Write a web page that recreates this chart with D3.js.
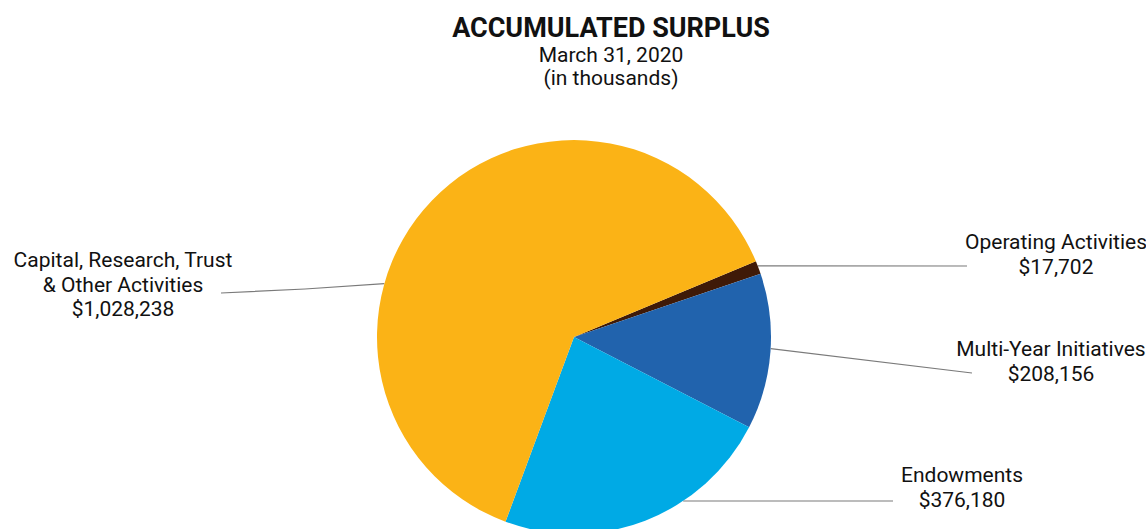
<!DOCTYPE html>
<html>
<head>
<meta charset="utf-8">
<script src="https://cdn.jsdelivr.net/npm/d3@7"></script>
<style>
  html, body { margin: 0; padding: 0; background: #fff; }
  svg text { font-family: Roboto, "Liberation Sans", sans-serif; fill: #111; }
</style>
</head>
<body>
<svg id="chart" width="1146" height="529"></svg>
<script>
// Accumulated surplus components (in thousands of dollars)
const categories = ["Operating Activities", "Multi-Year Initiatives", "Endowments", "Capital, Research, Trust & Other Activities"];
const values = [17702, 208156, 376180, 1028238];
const valueLabels = ["$17,702", "$208,156", "$376,180", "$1,028,238"];
const labelLines = [["Operating Activities"], ["Multi-Year Initiatives"], ["Endowments"], ["Capital, Research, Trust", "& Other Activities"]];
const colors = ["#3f1a08", "#2163ad", "#00aae5", "#fbb316"];

const svg = d3.select("#chart");
const cx = 574, cy = 337, r = 197;

// Titles
svg.append("text").attr("x", 611).attr("y", 37).attr("text-anchor", "middle")
  .style("font-size", "27px").style("font-weight", "700").text("ACCUMULATED SURPLUS");
svg.append("text").attr("x", 611).attr("y", 62).attr("text-anchor", "middle")
  .style("font-size", "21px").text("March 31, 2020");
svg.append("text").attr("x", 611).attr("y", 85).attr("text-anchor", "middle")
  .style("font-size", "21px").text("(in thousands)");

// Pie starting just past two o'clock, running clockwise
const start = 67.4 * Math.PI / 180;
const pie = d3.pie().sort(null).value(d => d)
  .startAngle(start).endAngle(start + 2 * Math.PI);
const arcs = pie(values);
const arc = d3.arc().innerRadius(0).outerRadius(r);

// Leader lines: where they leave the slice (fraction of its sweep), optional bend, and end near the label
const leaders = [
  { frac: 0.36, bend: null, end: [967, 266] },
  { frac: 0.48, bend: null, end: [972, 373] },
  { frac: 0.35, bend: null, end: [893, 501] },
  { frac: 0.376, bend: [305, 289], end: [221, 293] }
];

const lineG = svg.append("g");
arcs.forEach((a, i) => {
  const L = leaders[i];
  const ang = a.startAngle + (a.endAngle - a.startAngle) * L.frac;
  const pts = [[cx + r * Math.sin(ang), cy - r * Math.cos(ang)]];
  if (L.bend) pts.push(L.bend);
  pts.push(L.end);
  lineG.append("path")
    .attr("d", d3.line()(pts))
    .attr("fill", "none")
    .attr("stroke", "#7a7a7a").attr("stroke-width", 1.2);
});

svg.append("g").attr("transform", `translate(${cx},${cy})`)
  .selectAll("path").data(arcs).join("path")
  .attr("d", arc).attr("fill", (d, i) => colors[i]);

// Labels
const labelPos = [
  { x: 1056, y: 249 },
  { x: 1051, y: 356 },
  { x: 962, y: 482 },
  { x: 123, y: 267 }
];
labelLines.forEach((lines, i) => {
  const t = svg.append("text").attr("text-anchor", "middle").style("font-size", "21px");
  lines.concat([valueLabels[i]]).forEach((s, k) => {
    t.append("tspan").attr("x", labelPos[i].x).attr("y", labelPos[i].y + k * 24.5).text(s);
  });
});
</script>
</body>
</html>
